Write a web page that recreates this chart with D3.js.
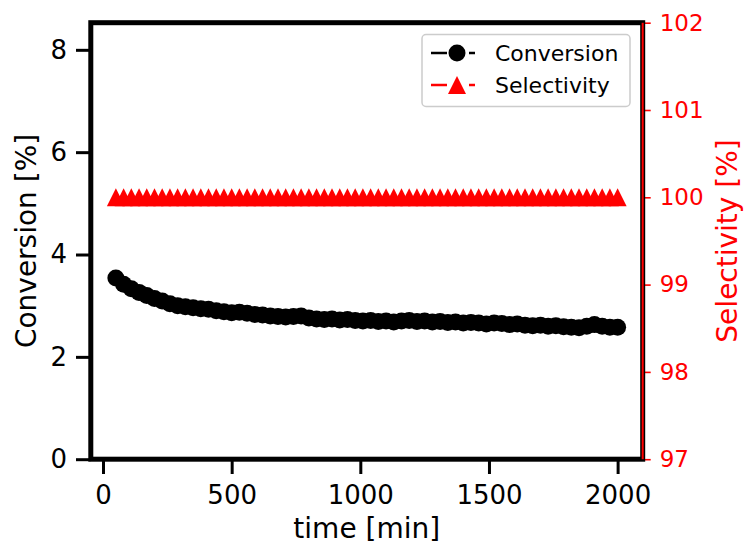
<!DOCTYPE html>
<html>
<head>
<meta charset="utf-8">
<script src="https://cdn.jsdelivr.net/npm/d3@7"></script>
<style>
  body { margin: 0; background: #fff; }
  svg { font-family: "DejaVu Sans", sans-serif; }
</style>
</head>
<body>
<div id="chart"></div>
<script>
// time [min]
const times = [50, 80, 110, 140, 170, 200, 230, 260, 290, 320, 350, 380, 410, 440, 470, 500,
  530, 560, 590, 620, 650, 680, 710, 740, 770, 800, 830, 860, 890, 920, 950, 980,
  1010, 1040, 1070, 1100, 1130, 1160, 1190, 1220, 1250, 1280, 1310, 1340, 1370, 1400,
  1430, 1460, 1490, 1520, 1550, 1580, 1610, 1640, 1670, 1700, 1730, 1760, 1790, 1820,
  1850, 1880, 1910, 1940, 1970, 2000];
// Conversion [%]
const conversion = [3.54, 3.42, 3.33, 3.26, 3.20, 3.14, 3.09, 3.04, 3.00, 2.98, 2.96, 2.94,
  2.93, 2.90, 2.88, 2.86, 2.87, 2.85, 2.83, 2.82, 2.80, 2.79, 2.78, 2.79, 2.80, 2.76,
  2.74, 2.73, 2.74, 2.72, 2.73, 2.71, 2.70, 2.71, 2.69, 2.70, 2.68, 2.70, 2.71, 2.69,
  2.70, 2.68, 2.69, 2.67, 2.68, 2.66, 2.67, 2.66, 2.64, 2.66, 2.65, 2.63, 2.64, 2.62,
  2.61, 2.62, 2.60, 2.61, 2.59, 2.58, 2.57, 2.60, 2.63, 2.60, 2.58, 2.58];
// Selectivity [%]
const selectivity = times.map(() => 100);

const xTicks = [0, 500, 1000, 1500, 2000];
const yTicks = [0, 2, 4, 6, 8];
const y2Ticks = [97, 98, 99, 100, 101, 102];

const width = 745, height = 546;
const pl = 90.8, pr = 642.7, pt = 22.7, pb = 459.2;
const red = "#ff0000";

const svg = d3.select("#chart").append("svg")
  .attr("width", width).attr("height", height);

// matplotlib style 5% margins
const x = d3.scaleLinear().domain([-47.5, 2097.5]).range([pl, pr]);
const y = d3.scaleLinear().domain([0, 8.53]).range([pb, pt]);
const y2 = d3.scaleLinear().domain([97, 102]).range([pb, pt]);

const tri = d3.symbol().type({
  draw(ctx) { ctx.moveTo(0, -9); ctx.lineTo(9, 9); ctx.lineTo(-9, 9); ctx.closePath(); }
});

// conversion line + circles
svg.append("path")
  .attr("d", d3.line()(times.map((t, i) => [x(t), y(conversion[i])])))
  .attr("fill", "none").attr("stroke", "#000").attr("stroke-width", 2.5)
  .attr("stroke-dasharray", "16,4,2.5,4");
svg.append("g").selectAll("circle")
  .data(times)
  .join("circle")
  .attr("cx", d => x(d))
  .attr("cy", (d, i) => y(conversion[i]))
  .attr("r", 8.5)
  .attr("fill", "#000");

// selectivity line + triangles
svg.append("path")
  .attr("d", d3.line()(times.map((t, i) => [x(t), y2(selectivity[i])])))
  .attr("fill", "none").attr("stroke", red).attr("stroke-width", 2.5)
  .attr("stroke-dasharray", "16,4,2.5,4");
svg.append("g").selectAll("path")
  .data(times)
  .join("path")
  .attr("transform", (d, i) => `translate(${x(d)},${y2(selectivity[i])})`)
  .attr("d", tri())
  .attr("fill", red);

// axes
const xAxis = svg.append("g")
  .attr("transform", `translate(0,${pb})`)
  .call(d3.axisBottom(x).tickValues(xTicks).tickSize(14.8).tickPadding(12).tickFormat(d3.format("d")));
const yAxis = svg.append("g")
  .attr("transform", `translate(${pl},0)`)
  .call(d3.axisLeft(y).tickValues(yTicks).tickSize(14.8).tickPadding(9).tickFormat(d3.format("d")));
const y2Axis = svg.append("g")
  .attr("transform", `translate(${pr},0)`)
  .call(d3.axisRight(y2).tickValues(y2Ticks).tickSize(8).tickPadding(9).tickFormat(d3.format("d")));

[xAxis, yAxis].forEach(g => {
  g.select(".domain").remove();
  g.selectAll(".tick line").attr("stroke", "#000").attr("stroke-width", 3);
  g.selectAll(".tick text").attr("fill", "#000").attr("font-size", 26)
    .attr("font-family", "DejaVu Sans");
});
y2Axis.select(".domain").remove();
y2Axis.selectAll(".tick line").attr("stroke", red).attr("stroke-width", 1.6);
y2Axis.selectAll(".tick text").attr("fill", red).attr("font-size", 23)
  .attr("font-family", "DejaVu Sans");

// spines
svg.append("rect")
  .attr("x", pl).attr("y", pt)
  .attr("width", pr - pl).attr("height", pb - pt)
  .attr("fill", "none").attr("stroke", "#000").attr("stroke-width", 5);
svg.append("line")
  .attr("x1", pr).attr("x2", pr).attr("y1", pt).attr("y2", pb)
  .attr("stroke", red).attr("stroke-width", 2);

// axis labels
svg.append("text")
  .attr("x", (pl + pr) / 2).attr("y", 538)
  .attr("text-anchor", "middle").attr("font-size", 28)
  .text("time [min]");
svg.append("text")
  .attr("transform", `translate(36,${(pt + pb) / 2}) rotate(-90)`)
  .attr("text-anchor", "middle").attr("font-size", 28)
  .text("Conversion [%]");
svg.append("text")
  .attr("transform", `translate(737,${(pt + pb) / 2}) rotate(-90)`)
  .attr("text-anchor", "middle").attr("font-size", 28).attr("fill", red)
  .text("Selectivity [%]");

// legend
const lg = svg.append("g");
lg.append("rect")
  .attr("x", 422).attr("y", 34.5).attr("width", 208).attr("height", 72)
  .attr("rx", 4).attr("fill", "#fff").attr("fill-opacity", 0.8)
  .attr("stroke", "#cccccc").attr("stroke-width", 1.5);
const entries = [
  { label: "Conversion", color: "#000", marker: "circle", cy: 53 },
  { label: "Selectivity", color: red, marker: "tri", cy: 85 }
];
entries.forEach(e => {
  lg.append("line").attr("x1", 431).attr("x2", 447).attr("y1", e.cy).attr("y2", e.cy)
    .attr("stroke", e.color).attr("stroke-width", 2.5);
  lg.append("line").attr("x1", 469).attr("x2", 475).attr("y1", e.cy).attr("y2", e.cy)
    .attr("stroke", e.color).attr("stroke-width", 2.5);
  lg.append("line").attr("x1", 457).attr("x2", 457).attr("y1", e.cy - 7).attr("y2", e.cy + 7)
    .attr("stroke", e.color).attr("stroke-width", 2);
  if (e.marker === "circle") {
    lg.append("circle").attr("cx", 457).attr("cy", e.cy).attr("r", 8.5).attr("fill", e.color);
  } else {
    lg.append("path").attr("transform", `translate(457,${e.cy})`).attr("d", tri()).attr("fill", e.color);
  }
  lg.append("text").attr("x", 495).attr("y", e.cy + 8)
    .attr("font-size", 22).attr("fill", "#000").text(e.label);
});
</script>
</body>
</html>
